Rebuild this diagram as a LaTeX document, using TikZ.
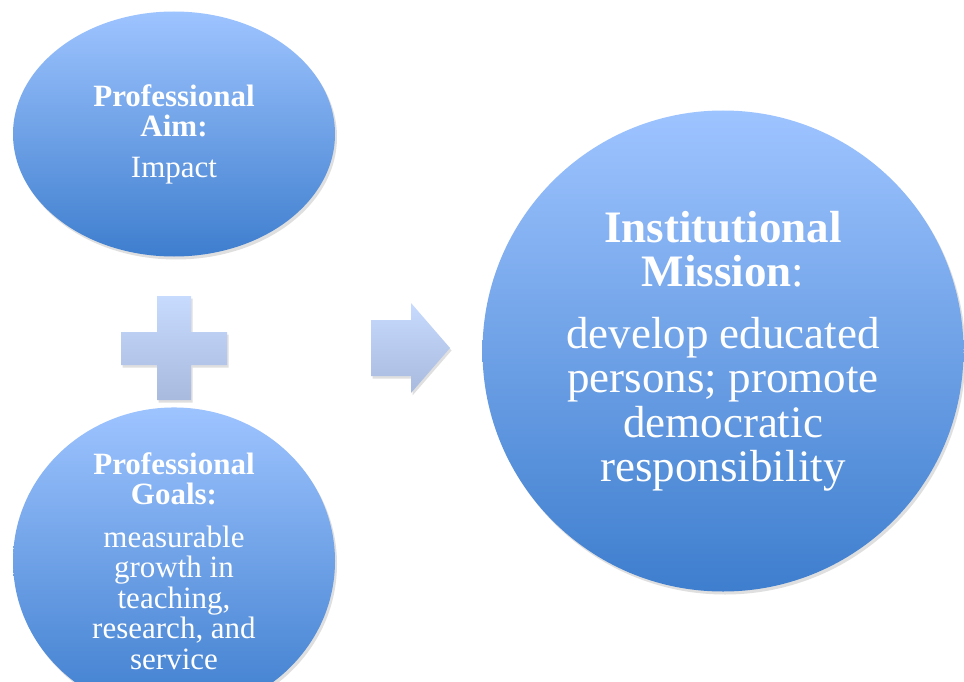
\documentclass[tikz,border=0pt]{standalone}
\usepackage{fontspec}
\setmainfont{Liberation Serif}
\usetikzlibrary{shapes.geometric,shadows}
\definecolor{blueTop}{RGB}{158,196,255}
\definecolor{blueBot}{RGB}{62,126,206}
\definecolor{paleTop}{RGB}{199,219,255}
\definecolor{paleBot}{RGB}{168,186,222}
\tikzset{
  bubble/.style={ellipse, inner sep=0pt, top color=blueTop, bottom color=blueBot,
    draw=none, text=white, align=center,
    drop shadow={opacity=0.25, shadow xshift=2pt, shadow yshift=-3pt}},
  symbolshape/.style={top color=paleTop, bottom color=paleBot, draw=none,
    drop shadow={opacity=0.25, shadow xshift=1.5pt, shadow yshift=-2.5pt}},
  smalltext/.style={font=\fontsize{31}{30.5}\selectfont},
  bigtext/.style={font=\fontsize{45}{44.5}\selectfont}
}
\begin{document}
\begin{tikzpicture}[x=1pt,y=-1pt]
\useasboundingbox[fill=white] (0,0) rectangle (964,682);
% top ellipse
\node[bubble, smalltext, minimum width=322pt, minimum height=245pt] (aim) at (174,134)
  {\textbf{Professional}\\ \textbf{Aim:}\\[10pt] Impact};
% bottom ellipse
\node[bubble, smalltext, minimum width=322pt, minimum height=245pt] (goals) at (174,561)
  {\textbf{Professional}\\ \textbf{Goals:}\\[12pt] measurable\\ growth in\\ teaching,\\ research, and\\ service};
% big circle
\node[bubble, bigtext, minimum width=481pt, minimum height=481pt] (mission) at (723,351)
  {\textbf{Institutional}\\ \textbf{Mission}:\\[17pt] develop educated\\ persons; promote\\ democratic\\ responsibility};
% plus sign
\path[symbolshape] (157,296) -- (191,296) -- (191,332) -- (227,332) -- (227,365) -- (191,365)
  -- (191,400) -- (157,400) -- (157,365) -- (121,365) -- (121,332) -- (157,332) -- cycle;
% arrow
\path[symbolshape] (371,320) -- (411,320) -- (411,303) -- (450,348) -- (411,393) -- (411,376)
  -- (371,376) -- cycle;
\end{tikzpicture}
\end{document}
